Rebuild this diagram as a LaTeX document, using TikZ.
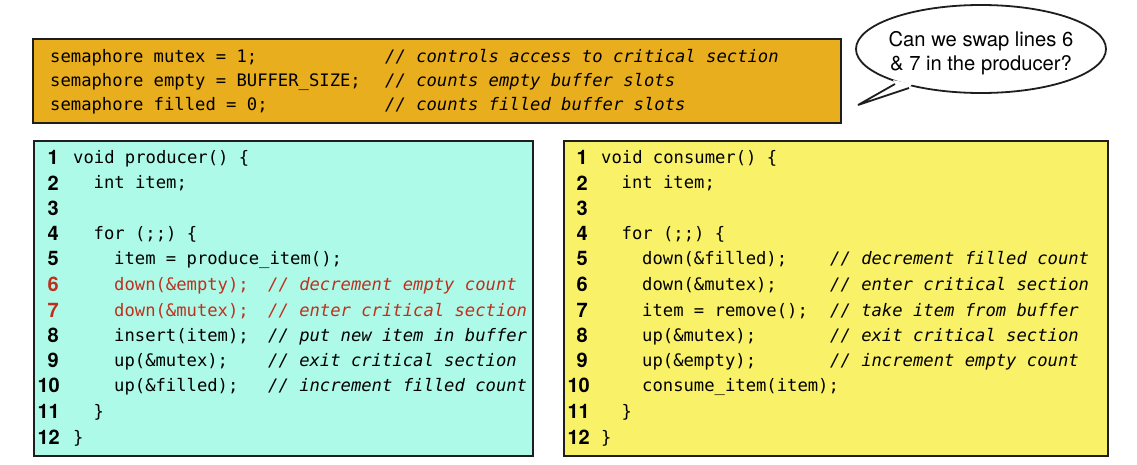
\documentclass[tikz,border=0pt]{standalone}
\usepackage{fontspec}
\setmainfont{TeX Gyre Heros}
\newfontfamily\codefont{DejaVu Sans Mono}
\newfontfamily\cmtfont{DejaVu Sans Mono Oblique}
\newfontfamily\numfont{TeX Gyre Heros}
\usetikzlibrary{shapes.geometric}
\definecolor{orangebox}{RGB}{233,174,30}
\definecolor{cyanbox}{RGB}{174,250,232}
\definecolor{yellowbox}{RGB}{249,241,104}
\definecolor{redtext}{RGB}{190,48,30}
\definecolor{edge}{RGB}{30,30,30}
\begin{document}
\begin{tikzpicture}[x=1pt,y=-1pt,
  panel/.style={draw=edge, line width=1.6pt, anchor=north west, inner sep=0pt},
  code/.style={anchor=base west, inner sep=0pt, font=\codefont\fontsize{17.2}{20}\selectfont},
  cmt/.style={anchor=base west, inner sep=0pt, font=\cmtfont\fontsize{17.2}{20}\selectfont},
  num/.style={anchor=base east, inner sep=0pt, font=\numfont\bfseries\fontsize{20}{22}\selectfont},
  hot/.style={text=redtext}
]
\useasboundingbox (0,0) rectangle (1137,465);
\fill[white] (0,0) rectangle (1137,465);

% ---------- global declarations ----------
\node[panel, fill=orangebox, minimum width=808pt, minimum height=84pt] (globals) at (32,38) {};
\node[code] (g1) at (50,63) {semaphore mutex = 1;};
\node[code] (g2) at (50,87) {semaphore empty = BUFFER\_SIZE;};
\node[code] (g3) at (50,111) {semaphore filled = 0;};
\node[cmt] (g1c) at (385,63) {// controls access to critical section};
\node[cmt] (g2c) at (385,87) {// counts empty buffer slots};
\node[cmt] (g3c) at (385,111) {// counts filled buffer slots};

% ---------- speech bubble ----------
\fill[white] (895,84) -- (858,105) -- (909,88) -- cycle;
\node[ellipse, draw=edge, line width=1.8pt, fill=white, minimum width=250pt, minimum height=88pt, inner sep=0pt] (bubble) at (981,49) {};
\fill[white] (893,80) -- (895,84) -- (858,105) -- (909,88) -- (912,84) -- cycle;
\draw[edge, line width=1.8pt, line join=miter] (895,84) -- (858,105) -- (909,88);
\node[align=center, font=\fontsize{20.2}{24}\selectfont, inner sep=0pt] (question) at (981,53) {Can we swap lines 6\\\& 7 in the producer?};

% ---------- producer ----------
\node[panel, fill=cyanbox, minimum width=499pt, minimum height=315pt] (producer) at (33,140) {};
\node[num] (p1) at (59,165) {1};
\node[num] (p2) at (59,190) {2};
\node[num] (p3) at (59,215) {3};
\node[num] (p4) at (59,240) {4};
\node[num] (p5) at (59,265) {5};
\node[num, hot] (p6) at (59,291) {6};
\node[num, hot] (p7) at (59,317) {7};
\node[num] (p8) at (59,342) {8};
\node[num] (p9) at (59,367) {9};
\node[num] (p10) at (60,392) {10};
\node[num] (p11) at (60,418) {11};
\node[num] (p12) at (60,444) {12};
\node[code] (pc1) at (73,164) {void producer() \{};
\node[code] (pc2) at (93.5,189) {int item;};
\node[code] (pc4) at (93.5,239) {for (;;) \{};
\node[code] (pc5) at (114,264) {item = produce\_item();};
\node[code, hot] (pc6) at (114,290) {down(\&empty);};
\node[code, hot] (pc7) at (114,316) {down(\&mutex);};
\node[code] (pc8) at (114,341) {insert(item);};
\node[code] (pc9) at (114,366) {up(\&mutex);};
\node[code] (pc10) at (114,391) {up(\&filled);};
\node[code] (pc11) at (93.5,417) {\}};
\node[code] (pc12) at (73,443) {\}};
\node[cmt, hot] (pm6) at (268,290) {// decrement empty count};
\node[cmt, hot] (pm7) at (268,316) {// enter critical section};
\node[cmt] (pm8) at (268,341) {// put new item in buffer};
\node[cmt] (pm9) at (268,366) {// exit critical section};
\node[cmt] (pm10) at (268,391) {// increment filled count};

% ---------- consumer ----------
\node[panel, fill=yellowbox, minimum width=544pt, minimum height=315pt] (consumer) at (563,140) {};
\node[num] (c1) at (588,165) {1};
\node[num] (c2) at (588,190) {2};
\node[num] (c3) at (588,215) {3};
\node[num] (c4) at (588,240) {4};
\node[num] (c5) at (588,265) {5};
\node[num] (c6) at (588,291) {6};
\node[num] (c7) at (588,317) {7};
\node[num] (c8) at (588,342) {8};
\node[num] (c9) at (588,367) {9};
\node[num] (c10) at (590,392) {10};
\node[num] (c11) at (590,418) {11};
\node[num] (c12) at (590,444) {12};
\node[code] (cc1) at (601,164) {void consumer() \{};
\node[code] (cc2) at (621.5,189) {int item;};
\node[code] (cc4) at (621.5,239) {for (;;) \{};
\node[code] (cc5) at (642,264) {down(\&filled);};
\node[code] (cc6) at (642,290) {down(\&mutex);};
\node[code] (cc7) at (642,316) {item = remove();};
\node[code] (cc8) at (642,341) {up(\&mutex);};
\node[code] (cc9) at (642,366) {up(\&empty);};
\node[code] (cc10) at (642,391) {consume\_item(item);};
\node[code] (cc11) at (621.5,417) {\}};
\node[code] (cc12) at (601,443) {\}};
\node[cmt] (cm5) at (830,264) {// decrement filled count};
\node[cmt] (cm6) at (830,290) {// enter critical section};
\node[cmt] (cm7) at (830,316) {// take item from buffer};
\node[cmt] (cm8) at (830,341) {// exit critical section};
\node[cmt] (cm9) at (830,366) {// increment empty count};
\end{tikzpicture}
\end{document}
